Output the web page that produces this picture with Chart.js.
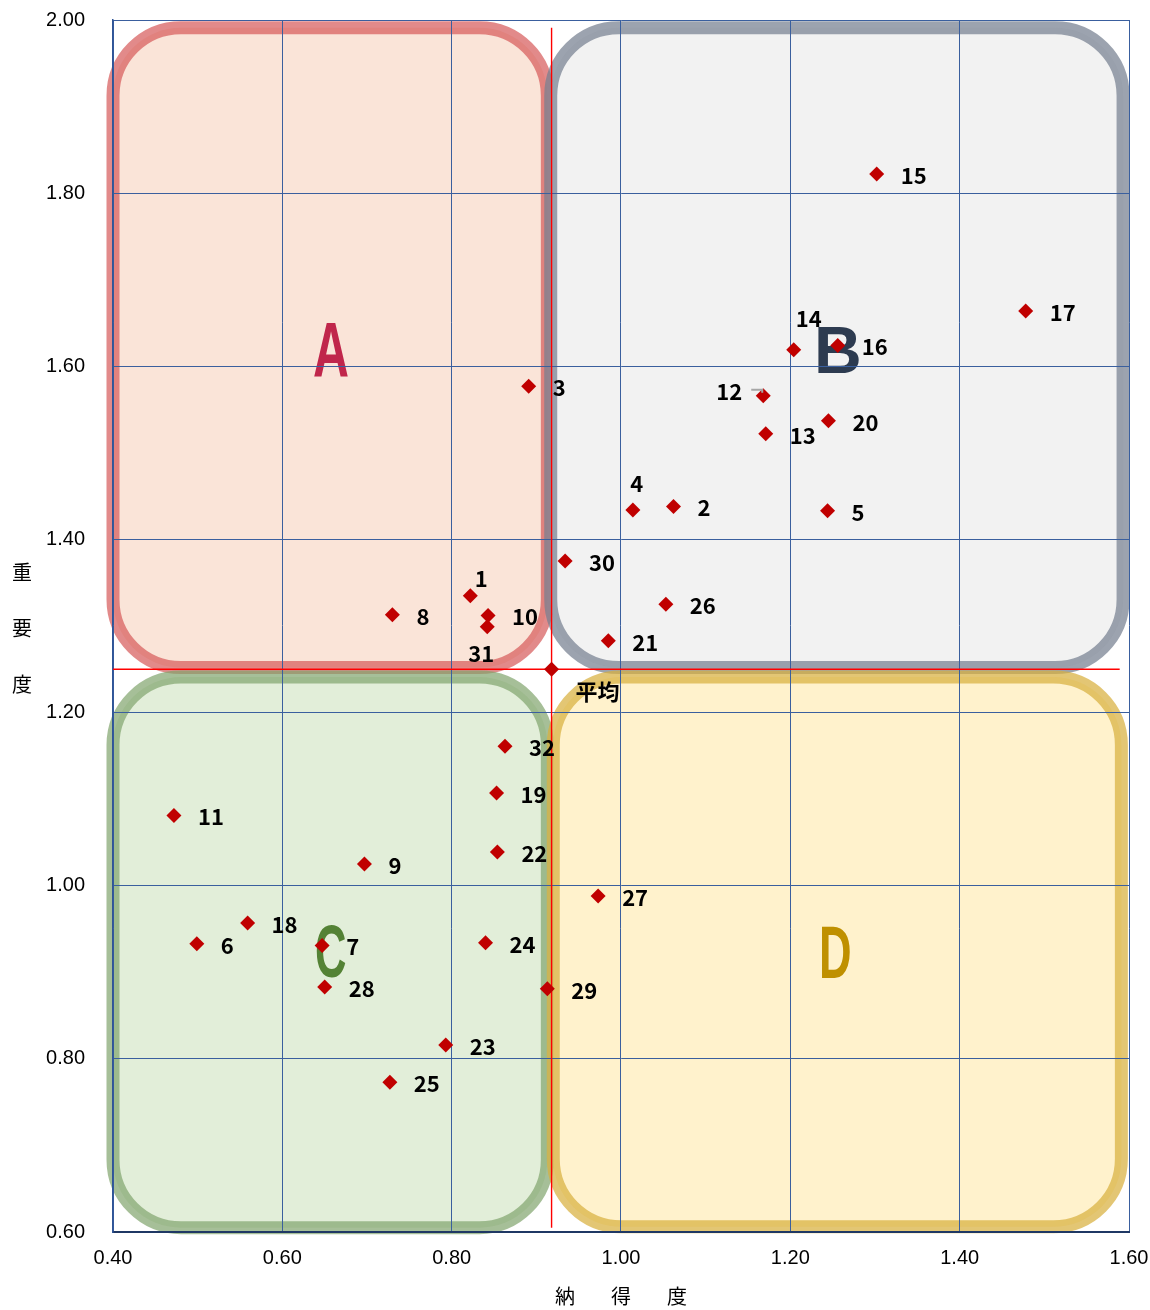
<!DOCTYPE html>
<html>
<head>
<meta charset="utf-8">
<script src="https://cdn.jsdelivr.net/npm/chart.js@4.4.1/dist/chart.umd.min.js"></script>
<style>
  html, body { margin: 0; padding: 0; background: #fff; }
  canvas { display: block; }
</style>
</head>
<body>
<canvas id="chart" width="1150" height="1310"></canvas>
<script>
// Item numbers and their scores
const itemIds = [1, 2, 3, 4, 5, 6, 7, 8, 9, 10, 11, 12, 13, 14, 15, 16,
                 17, 18, 19, 20, 21, 22, 23, 24, 25, 26, 27, 28, 29, 30, 31, 32];
// 納得度 (horizontal)
const nattokudo = [0.822, 1.062, 0.891, 1.014, 1.244, 0.499, 0.647, 0.730, 0.697, 0.843, 0.472,
                   1.168, 1.171, 1.204, 1.302, 1.256, 1.478, 0.559, 0.853, 1.245, 0.985, 0.854,
                   0.793, 0.840, 0.727, 1.053, 0.973, 0.650, 0.913, 0.934, 0.842, 0.863];
// 重要度 (vertical)
const juyodo = [1.335, 1.438, 1.577, 1.434, 1.433, 0.933, 0.931, 1.313, 1.025, 1.312, 1.081,
                1.566, 1.522, 1.619, 1.822, 1.624, 1.664, 0.957, 1.107, 1.537, 1.283, 1.039,
                0.816, 0.934, 0.773, 1.325, 0.988, 0.883, 0.881, 1.375, 1.299, 1.161];
// 平均
const averageX = 0.918;
const averageY = 1.250;
const averageLabel = '平均';

const xTicks = [0.40, 0.60, 0.80, 1.00, 1.20, 1.40, 1.60];
const yTicks = [0.60, 0.80, 1.00, 1.20, 1.40, 1.60, 1.80, 2.00];
const xTitle = ['納', '得', '度'];
const yTitle = ['重', '要', '度'];

// Quadrant panels (value bounds) and their styling
const quadrants = [
  { name: 'A', x0: 0.400, x1: 0.913, y0: 1.252, y1: 1.991, fill: '#FAE4D8', stroke: 'rgba(214,88,88,0.70)' },
  { name: 'B', x0: 0.917, x1: 1.593, y0: 1.252, y1: 1.991, fill: '#F2F2F2', stroke: 'rgba(118,128,144,0.72)' },
  { name: 'C', x0: 0.400, x1: 0.913, y0: 0.605, y1: 1.241, fill: '#E2EED9', stroke: 'rgba(128,164,108,0.70)' },
  { name: 'D', x0: 0.920, x1: 1.591, y0: 0.606, y1: 1.241, fill: '#FFF2CC', stroke: 'rgba(216,176,62,0.72)' }
];
// Large quadrant letters: centre (values), font size, horizontal squeeze, colour
const quadrantLetters = [
  { text: 'A', x: 0.6575, y: 1.620, size: 78, sx: 0.64, color: '#C0264B' },
  { text: 'B', x: 1.256,  y: 1.620, size: 66, sx: 1.00, color: '#2D3B50' },
  { text: 'C', x: 0.657,  y: 0.926, size: 75, sx: 0.58, color: '#548235' },
  { text: 'D', x: 1.253,  y: 0.924, size: 74, sx: 0.61, color: '#BF9000' }
];
// Label nudges (label centre relative to marker, px); others sit to the right
const labelNudge = { 1: [11, -17], 4: [4, -26], 12: [-34, -4], 14: [15, -31], 31: [-6, 27] };

const LABEL_FONT = 'bold 22px "Noto Sans CJK JP", "DejaVu Sans", sans-serif';
const TICK_FONT = { family: '"Liberation Sans", Arial, sans-serif', size: 20 };

function roundRectPath(ctx, x, y, w, h, r) {
  ctx.beginPath();
  ctx.moveTo(x + r, y);
  ctx.lineTo(x + w - r, y);
  ctx.arcTo(x + w, y, x + w, y + r, r);
  ctx.lineTo(x + w, y + h - r);
  ctx.arcTo(x + w, y + h, x + w - r, y + h, r);
  ctx.lineTo(x + r, y + h);
  ctx.arcTo(x, y + h, x, y + h - r, r);
  ctx.lineTo(x, y + r);
  ctx.arcTo(x, y, x + r, y, r);
  ctx.closePath();
}

const quadrantPlugin = {
  id: 'quadrants',
  beforeDraw(chart) {
    const { ctx, scales: { x, y } } = chart;
    ctx.save();
    quadrants.forEach(q => {
      const l = x.getPixelForValue(q.x0), r = x.getPixelForValue(q.x1);
      const t = y.getPixelForValue(q.y1), b = y.getPixelForValue(q.y0);
      roundRectPath(ctx, l, t, r - l, b - t, 68);
      ctx.fillStyle = q.fill;
      ctx.fill();
      ctx.lineWidth = 13;
      ctx.strokeStyle = q.stroke;
      ctx.stroke();
    });
    quadrantLetters.forEach(L => {
      const cx = x.getPixelForValue(L.x), cy = y.getPixelForValue(L.y);
      ctx.save();
      ctx.translate(cx, cy + L.size * 0.358);
      ctx.scale(L.sx, 1);
      ctx.font = 'bold ' + L.size + 'px "Liberation Sans", Arial, sans-serif';
      ctx.textAlign = 'center';
      ctx.textBaseline = 'alphabetic';
      ctx.fillStyle = L.color;
      ctx.fillText(L.text, 0, 0);
      ctx.restore();
    });
    ctx.restore();
  }
};

const labelPlugin = {
  id: 'pointLabels',
  afterDatasetsDraw(chart) {
    const { ctx } = chart;
    ctx.save();
    ctx.font = LABEL_FONT;
    ctx.fillStyle = '#000';
    ctx.textBaseline = 'middle';
    const meta = chart.getDatasetMeta(0);
    meta.data.forEach((pt, i) => {
      const id = itemIds[i];
      const nudge = labelNudge[id];
      if (nudge) {
        ctx.textAlign = 'center';
        ctx.fillText(String(id), pt.x + nudge[0], pt.y + nudge[1]);
        if (nudge[0] < -20) {
          // short leader from a label set off to the left
          ctx.save();
          ctx.strokeStyle = '#A6A6A6';
          ctx.lineWidth = 2;
          ctx.beginPath();
          ctx.moveTo(pt.x - 12, pt.y - 6);
          ctx.lineTo(pt.x - 1, pt.y - 6);
          ctx.lineTo(pt.x - 1, pt.y - 3);
          ctx.stroke();
          ctx.restore();
        }
      } else {
        ctx.textAlign = 'left';
        ctx.fillText(String(id), pt.x + 24, pt.y + 1.5);
      }
    });
    const avg = chart.getDatasetMeta(1).data[0];
    ctx.textAlign = 'center';
    ctx.fillText(averageLabel, avg.x + 46, avg.y + 22);
    ctx.restore();
  },
  afterDraw(chart) {
    const { ctx, chartArea: a } = chart;
    ctx.save();
    ctx.font = '20px "Noto Sans CJK JP", sans-serif';
    ctx.fillStyle = '#000';
    ctx.textAlign = 'center';
    ctx.textBaseline = 'middle';
    const cx = (a.left + a.right) / 2;
    xTitle.forEach((ch, i) => ctx.fillText(ch, cx + (i - 1) * 56, 1296));
    const cy = (a.top + a.bottom) / 2;
    yTitle.forEach((ch, i) => ctx.fillText(ch, 22, cy + 2 + (i - 1) * 56));
    ctx.restore();
  }
};

// pin the plot box: scales add no extra padding of their own
function clearPadding(s) {
  s.paddingTop = 0; s.paddingBottom = 0; s.paddingLeft = 0; s.paddingRight = 0;
}

new Chart(document.getElementById('chart'), {
  type: 'scatter',
  data: {
    datasets: [
      {
        data: itemIds.map((id, i) => ({ x: nattokudo[i], y: juyodo[i] })),
        pointStyle: 'rectRot',
        pointRadius: 7.5,
        backgroundColor: '#C00000',
        borderColor: '#C00000',
        borderWidth: 0
      },
      {
        data: [{ x: averageX, y: averageY }],
        pointStyle: 'rectRot',
        pointRadius: 7.5,
        backgroundColor: '#C00000',
        borderColor: '#C00000',
        borderWidth: 0
      },
      {
        type: 'line',
        data: [{ x: averageX, y: 1.991 }, { x: averageX, y: 0.605 }],
        borderColor: '#FF0000',
        borderWidth: 1.4,
        pointRadius: 0
      },
      {
        type: 'line',
        data: [{ x: 0.40, y: averageY }, { x: 1.589, y: averageY }],
        borderColor: '#FF0000',
        borderWidth: 1.4,
        pointRadius: 0
      }
    ]
  },
  options: {
    responsive: false,
    animation: false,
    events: [],
    layout: { padding: { top: 20, right: 21, left: 0, bottom: 0 } },
    plugins: { legend: { display: false }, tooltip: { enabled: false } },
    scales: {
      x: {
        type: 'linear',
        min: xTicks[0],
        max: xTicks[xTicks.length - 1],
        afterFit: s => { s.height = 78; clearPadding(s); },
        afterBuildTicks: s => { s.ticks = xTicks.map(v => ({ value: v })); },
        ticks: {
          callback: v => Number(v).toFixed(2),
          font: TICK_FONT,
          color: '#000',
          padding: 14,
          maxRotation: 0,
          autoSkip: false
        },
        grid: { color: '#3A5F9E', lineWidth: 1, drawTicks: false },
        border: { color: '#1F3864', width: 2 }
      },
      y: {
        type: 'linear',
        min: yTicks[0],
        max: yTicks[yTicks.length - 1],
        afterFit: s => { s.width = 113; clearPadding(s); },
        afterBuildTicks: s => { s.ticks = yTicks.map(v => ({ value: v })); },
        ticks: {
          callback: v => Number(v).toFixed(2),
          font: TICK_FONT,
          color: '#000',
          padding: 28,
          autoSkip: false
        },
        grid: { color: '#3A5F9E', lineWidth: 1, drawTicks: false },
        border: { color: '#2F5597', width: 1.5 }
      }
    }
  },
  plugins: [quadrantPlugin, labelPlugin]
});
</script>
</body>
</html>
